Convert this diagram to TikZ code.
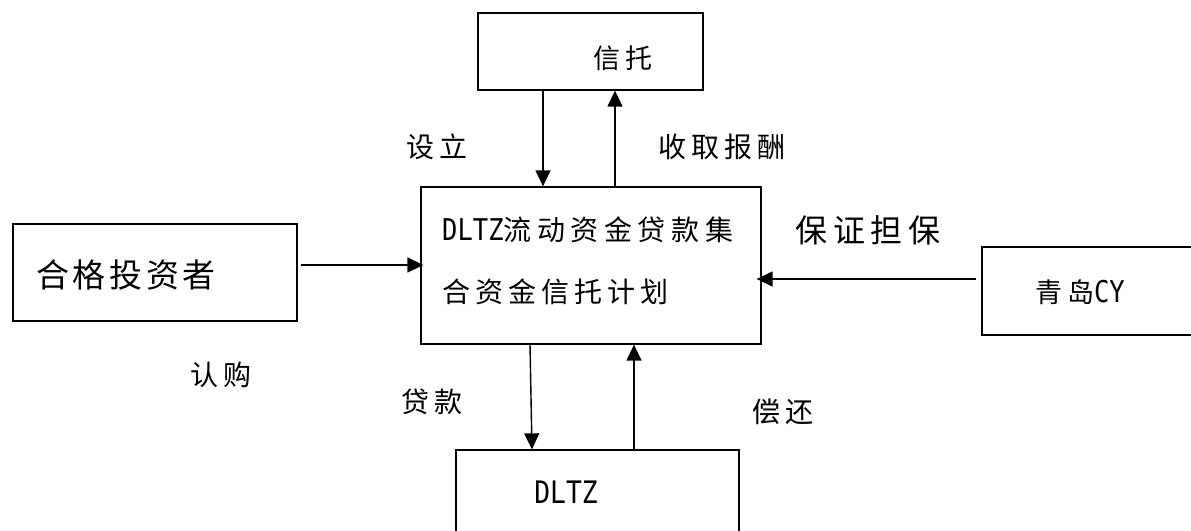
\documentclass[tikz,border=0pt]{standalone}
\usepackage{fontspec}
\setmainfont{Noto Sans CJK SC}
\newfontfamily\lat[FakeStretch=0.85]{DejaVu Sans Mono}
\usetikzlibrary{arrows.meta}
\tikzset{
  boxshape/.style={draw, rectangle, line width=1.3pt, inner sep=0pt},
  arr/.style={line width=1.4pt, -{Triangle[length=16pt,width=15pt]}},
  txt/.style={inner sep=0pt, text=black},
}
\newcommand{\fs}[2]{\fontsize{#1}{#1}\selectfont\addfontfeature{LetterSpace=#2}}
\begin{document}
\begin{tikzpicture}[x=1pt,y=-1pt]
\useasboundingbox (0,0) rectangle (1191,530);
% boxes
\node[boxshape, minimum width=225pt, minimum height=77pt] (trust) at (590.5,51.5) {};
\node[boxshape, minimum width=340pt, minimum height=157pt] (main) at (591,265.5) {};
\node[boxshape, minimum width=284pt, minimum height=97pt] (inv) at (155,272.5) {};
\node[boxshape, minimum width=216pt, minimum height=88pt] (qd) at (1090,291) {};
\node[boxshape, minimum width=283pt, minimum height=120pt] (dltz) at (597.5,510) {};
% box texts
\node[txt] (ttrust) at (623,58) {\fs{27}{18}信托};
\node[txt, anchor=west] (tmain1) at (442,230) {{\fs{30}{0}\lat DLTZ}\fs{28}{20}流动资金贷款集};
\node[txt, anchor=west] (tmain2) at (442,292) {\fs{28}{18}合资金信托计划};
\node[txt] (tinv) at (126,275) {\fs{33}{11}合格投资者};
\node[txt] (tqd) at (1080,292) {\fs{27}{18}青岛{\fs{30}{0}\lat CY}};
\node[txt] (tdltz) at (566,492) {\fs{31}{0}\lat DLTZ};
% labels
\node[txt] (lsl) at (437,147) {\fs{28}{18}设立};
\node[txt] (lsq) at (722,147) {\fs{28}{18}收取报酬};
\node[txt] (lrg) at (221,375) {\fs{28}{18}认购};
\node[txt] (lbz) at (868,230) {\fs{32}{18}保证担保};
\node[txt] (ldk) at (432,402) {\fs{28}{18}贷款};
\node[txt] (lch) at (783,412) {\fs{28}{18}偿还};
% arrows
\draw[arr] ([xshift=-47.5pt]trust.south) -- ([xshift=-47.5pt]trust.south |- main.north);
\draw[arr] ([xshift=24.5pt]trust.south |- main.north) -- ([xshift=24.5pt]trust.south);
\draw[arr] ([xshift=3pt,yshift=7.5pt]inv.east) -- ([xshift=3pt,yshift=7.5pt]inv.east -| main.west);
\draw[arr] ([xshift=-5pt,yshift=12pt]qd.west) -- ([xshift=-5pt,yshift=12pt]qd.west -| main.east);
\draw[arr] ([xshift=-61pt]main.south) -- ([xshift=-65.5pt]dltz.north);
\draw[arr] ([xshift=36.5pt]dltz.north) -- ([xshift=36.5pt]dltz.north |- main.south);
\end{tikzpicture}
\end{document}
